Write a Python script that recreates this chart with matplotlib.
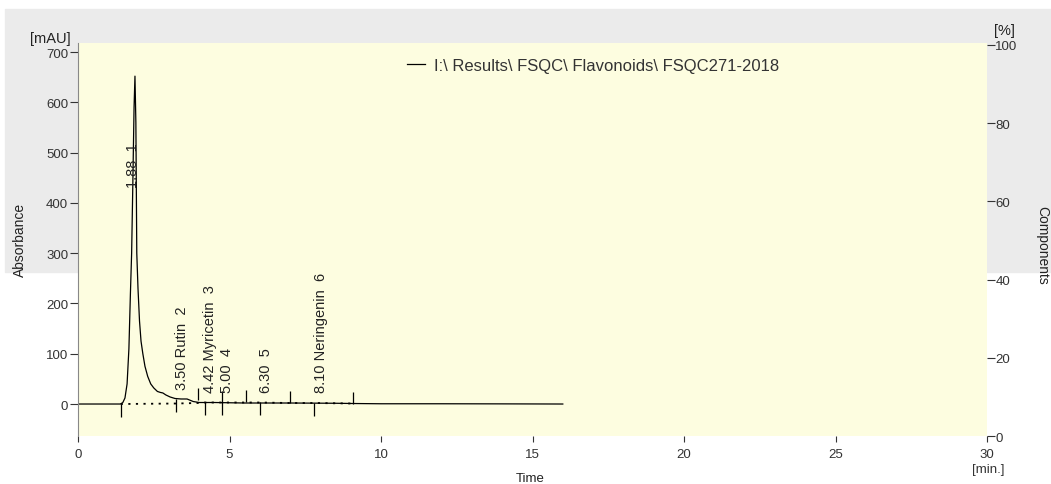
import numpy as np
from matplotlib import pyplot as plt
from matplotlib.patches import Rectangle

# chromatogram trace (time in min, absorbance in mAU)
time_min = [0, 1.0, 1.40, 1.48, 1.55, 1.62, 1.68, 1.73, 1.77, 1.81, 1.85, 1.88, 1.91, 1.94, 1.98,
            2.03, 2.08, 2.14, 2.21, 2.30, 2.40, 2.50, 2.62, 2.72, 2.80, 2.90, 3.04, 3.20, 3.40,
            3.60, 3.80, 4.00, 4.50, 5.50, 7.00, 8.50, 9.10, 10.0, 12.0, 14.0, 16.0]
absorbance = [0, 0, 0, 3, 12, 40, 110, 220, 300, 440, 590, 652, 560, 300, 230,
              165, 125, 100, 75, 55, 40, 32, 25, 23, 22, 18, 14, 11, 10,
              10, 5, 3, 3, 2, 2, 1.5, 1, 0.5, 0.5, 0.3, 0]

# integration marks
start_marks = [1.41, 3.23, 4.19, 4.76, 6.01, 7.79]
start_level = [0, 10, 4, 4, 4, 3]
end_marks = [3.95, 4.76, 5.54, 6.99, 9.08]
end_level = [8, 2, 4, 2, 0]
baseline_t = [1.41, 3.23, 3.95, 4.19, 4.76, 5.54, 6.01, 6.99, 7.79, 9.08]
baseline_a = [0, 1, 2, 3, 3, 3, 3, 2, 2, 1]

# peak labels
peak_rt = [1.88, 3.50, 4.42, 5.00, 6.30, 8.10]
peak_name = ['', 'Rutin', 'Myricetin', '', '', 'Neringenin']
peak_no = [1, 2, 3, 4, 5, 6]
label_y = [431, 30, 24, 24, 24, 24]

legend_label = r'I:\ Results\ FSQC\ Flavonoids\ FSQC271-2018'

narrow = ['Liberation Sans Narrow', 'Liberation Sans']
plt.rcParams['font.family'] = ['Liberation Sans', 'DejaVu Sans']

W, H = 1051, 485
fig = plt.figure(figsize=(W / 100, H / 100), dpi=100)
fig.patches.append(Rectangle((5 / W, 1 - 273 / H), 1, (273 - 10) / H,
                             transform=fig.transFigure, color='#ebebeb', zorder=-10))

ax = fig.add_axes([78 / W, 1 - 437 / H, (987 - 78) / W, (437 - 44) / H])
ax.set_facecolor('#fdfde0')
ax.plot(time_min, absorbance, color='black', lw=0.9, label=legend_label)
ax.plot(baseline_t, baseline_a, color='black', lw=1.3, ls=(0, (1.2, 3)))
ax.vlines(start_marks, np.array(start_level) - 26, start_level, color='black', lw=0.9)
ax.vlines(end_marks, end_level, np.array(end_level) + 24, color='black', lw=0.9)

for rt, name, no, y in zip(peak_rt, peak_name, peak_no, label_y):
    txt = f'{rt:.2f} {name}  {no}' if name else f'{rt:.2f}  {no}'
    ax.text(rt - 0.08, y, txt, rotation=90, ha='center', va='bottom',
            fontsize=10.5, family=narrow, color='#222222')

ax.set_xlim(0, 30)
ax.set_ylim(-63.6, 717.9)
ax.set_xticks(range(0, 31, 5))
ax.set_yticks(range(0, 701, 100))
for s in ['top', 'right', 'bottom']:
    ax.spines[s].set_visible(False)
ax.spines['left'].set_color('#888888')
ax.tick_params(axis='y', direction='out', length=6, width=0.8, pad=1,
               labelsize=9.5, colors='#333333')
ax.tick_params(axis='x', direction='out', length=4, width=0.8, pad=5,
               labelsize=9.5, colors='#333333')

ax2 = ax.twinx()
ax2.set_ylim(0, 100.5)
ax2.set_yticks(range(0, 101, 20))
for s in ['top', 'right', 'bottom', 'left']:
    ax2.spines[s].set_visible(False)
ax2.tick_params(axis='y', direction='out', length=6, width=0.8, pad=0,
                labelsize=9.5, colors='#333333')

leg = ax.legend(loc='center left', bbox_to_anchor=(407 / W, 1 - 66 / H),
                bbox_transform=fig.transFigure, frameon=False, borderpad=0,
                borderaxespad=0, handlelength=1.1, handletextpad=0.55,
                prop={'family': 'Liberation Sans', 'size': 12})
for t in leg.get_texts():
    t.set_color('#333333')

fig.text(20 / W, 1 - 240 / H, 'Absorbance', rotation=90, ha='center', va='center',
         fontsize=10, family=narrow, color='#222222')
fig.text(1042 / W, 1 - 245 / H, 'Components', rotation=-90, ha='center', va='center',
         fontsize=10, family=narrow, color='#222222')
fig.text(50 / W, 1 - 39 / H, '[mAU]', ha='center', va='center', fontsize=10.5,
         color='#222222')
fig.text(1004 / W, 1 - 31 / H, '[%]', ha='center', va='center', fontsize=10.5,
         color='#222222')
fig.text(988 / W, 1 - 470 / H, '[min.]', ha='center', va='center', fontsize=9.5,
         color='#333333')
fig.text(530 / W, 1 - 479 / H, 'Time', ha='center', va='center', fontsize=9.5,
         color='#222222')

fig.savefig('out.png', dpi=100)
